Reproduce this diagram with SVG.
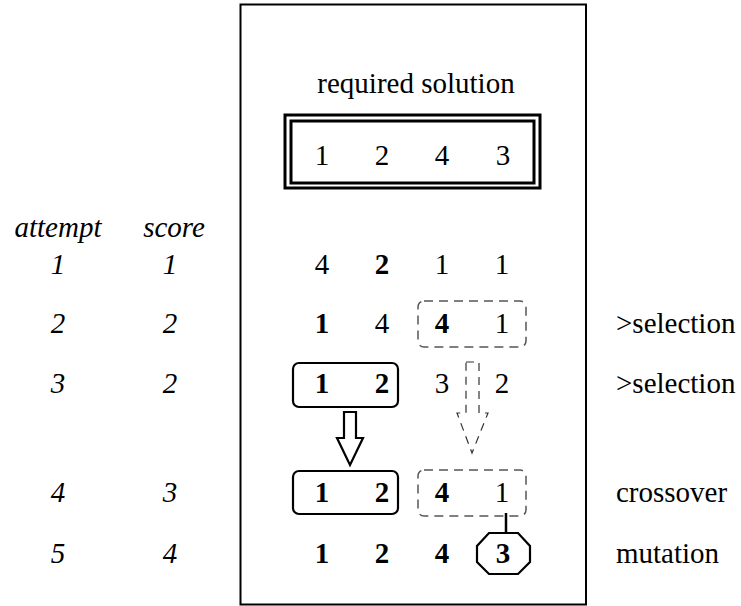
<svg xmlns="http://www.w3.org/2000/svg" width="741" height="606" viewBox="0 0 741 606" font-family="Liberation Serif, Times New Roman, serif">
<style>
text{font-size:29px;fill:#000}
.c{text-anchor:middle}
.i{font-style:italic}
.b{font-weight:bold}
.solid{fill:none;stroke:#000;stroke-width:2.2}
.dash{fill:none;stroke:#555;stroke-width:1.5;stroke-dasharray:9 6}
</style>
<rect width="741" height="606" fill="#fff"/>
<g id="frame"><rect x="240.5" y="4.5" width="345.5" height="600" fill="none" stroke="#000" stroke-width="2"/></g>
<g id="required">
<text class="c" x="416" y="93">required solution</text>
<rect x="285" y="115" width="255" height="73" fill="none" stroke="#000" stroke-width="3"/>
<rect x="291" y="121" width="243" height="62" fill="none" stroke="#000" stroke-width="3"/>
<text class="c" x="322" y="165">1</text><text class="c" x="382" y="165">2</text><text class="c" x="442" y="165">4</text><text class="c" x="503" y="165">3</text>
</g>
<g id="header"><text class="c i" x="58" y="237">attempt</text><text class="c i" x="174" y="237">score</text></g>
<g id="row1">
<text class="c i" x="58" y="274">1</text><text class="c i" x="170" y="274">1</text>
<text class="c" x="322" y="274">4</text><text class="c b" x="382" y="274">2</text><text class="c" x="442" y="274">1</text><text class="c" x="502" y="274">1</text>
</g>
<g id="row2">
<text class="c i" x="58" y="333">2</text><text class="c i" x="170" y="333">2</text>
<rect class="dash" x="418" y="301" width="108" height="46" rx="6"/>
<text class="c b" x="322" y="333">1</text><text class="c" x="382" y="333">4</text><text class="c b" x="442" y="333">4</text><text class="c" x="502" y="333">1</text>
<text x="616" y="333">&gt;selection</text>
</g>
<g id="row3">
<text class="c i" x="58" y="393">3</text><text class="c i" x="170" y="393">2</text>
<rect class="solid" x="293" y="363" width="105" height="44" rx="6"/>
<text class="c b" x="322" y="393">1</text><text class="c b" x="382" y="393">2</text><text class="c" x="442" y="393">3</text><text class="c" x="502" y="393">2</text>
<text x="616" y="393">&gt;selection</text>
</g>
<g id="row4">
<text class="c i" x="58" y="502">4</text><text class="c i" x="170" y="502">3</text>
<rect class="solid" x="293" y="471" width="105" height="43" rx="6"/>
<rect class="dash" x="418" y="470" width="108" height="46" rx="6"/>
<text class="c b" x="322" y="502">1</text><text class="c b" x="382" y="502">2</text><text class="c b" x="442" y="502">4</text><text class="c" x="502" y="502">1</text>
<text x="616" y="502">crossover</text>
</g>
<g id="row5">
<text class="c i" x="58" y="563">5</text><text class="c i" x="170" y="563">4</text>
<polygon points="489,533 518,533 530,546 530,562 518,574 489,574 477,562 477,546" fill="#fff" stroke="#000" stroke-width="2.2"/>
<text class="c b" x="322" y="563">1</text><text class="c b" x="382" y="563">2</text><text class="c b" x="442" y="563">4</text><text class="c b" x="503" y="563">3</text>
<text x="616" y="563">mutation</text>
</g>
<g id="connectors">
<polygon points="344,412 356,412 356,438 363,438 350,465 337,438 344,438" fill="#fff" stroke="#000" stroke-width="2.2" stroke-linejoin="miter"/>
<polygon points="466,362 479,362 479,413 488,413 472,453 457,413 466,413" fill="none" stroke="#333" stroke-width="1.2" stroke-dasharray="8 6"/>
<line x1="506" y1="513" x2="506" y2="534" stroke="#000" stroke-width="2.5"/>
</g>
</svg>
